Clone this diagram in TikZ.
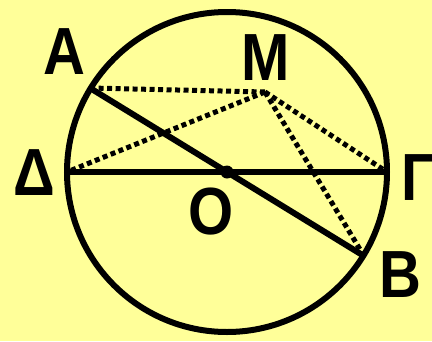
\documentclass[tikz,border=0pt]{standalone}
\usepackage{graphicx}
\usepackage{fontspec}
\setmainfont{Liberation Sans}
\usetikzlibrary{positioning}
\definecolor{paperYellow}{HTML}{FFFF99}
\newcommand\tallletter[1]{\scalebox{1}[1.15]{#1}}

\begin{document}
\begin{tikzpicture}[
  x=1pt, y=-1pt,
  lbl/.style={font=\bfseries\fontsize{58}{58}\selectfont, inner sep=0pt},
  chord/.style={line width=6pt},
  dotted line/.style={line width=5pt, dash pattern=on 5pt off 3.5pt},
  centre dot/.style={circle, fill, inner sep=0pt, minimum size=13pt}
]
\fill[paperYellow] (0,0) rectangle (432,341);
\useasboundingbox (0,0) rectangle (432,341);
\coordinate (O) at (227,172);
\coordinate (A) at (90,88);
\coordinate (B) at (364,256);
\coordinate (D) at (67,172);
\coordinate (G) at (387,172);
\coordinate (M) at (265,92);
\draw[dotted line] (M) -- (A);
\draw[dotted line] (M) -- (D);
\draw[dotted line] (M) -- (G);
\draw[dotted line] (M) -- (B);
\draw[chord] (A) -- (B);
\draw[chord] (D) -- (G);
\draw[chord] (O) circle (160pt);
\node[centre dot] (odot) at (O) {};
\node[lbl] (labelA) at (64,52) {\tallletter{A}};
\node[lbl] (labelM) at (265.5,58) {\tallletter{M}};
\node[lbl] (labelD) at (34.5,172.5) {\tallletter{Δ}};
\node[lbl] (labelG) at (419,177.5) {\tallletter{Γ}};
\node[lbl] (labelO) at (211,211.5) {\tallletter{O}};
\node[lbl] (labelB) at (400,274.5) {\tallletter{B}};
\end{tikzpicture}
\end{document}
